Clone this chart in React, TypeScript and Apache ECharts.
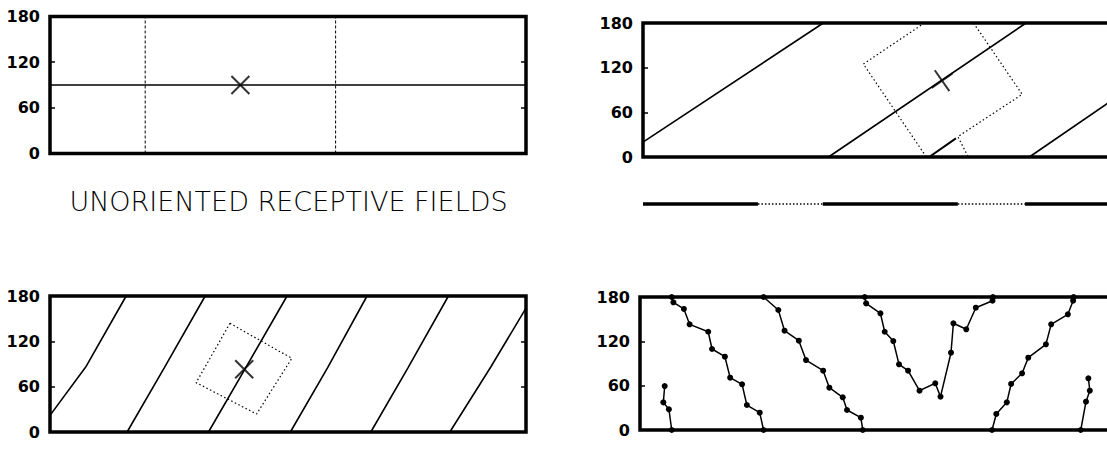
import React, { useEffect, useRef } from "react";
import * as echarts from "echarts";

// ---- Data ----
const yTickLabels = ["0", "60", "120", "180"];
const titleText = "UNORIENTED RECEPTIVE FIELDS";

// top-left: unoriented field
const tlOrientation = [[0, 90], [100, 90]];
const tlFieldEdges = [20, 60];
const tlCenter = [[40, 90]];

// top-right
const trLine1 = [[0, 20], [37.8, 180]];
const trLine2 = [[38.9, 0], [80.3, 180]];
const trLine3 = [[81, 0], [122, 180]];
const trShort = [[60, 0], [65.6, 25.1]];
const trBoxA = [[59, 180], [46.2, 124.9], [59.4, 0]];
const trBoxB = [[69.3, 180], [79.5, 84.2], [66, 27.3], [68.2, 0]];
const trCenter = [[62.7, 102.5]];

// separator (solid / dotted spans)
const sepSolid = [[0, 24.1], [37.7, 66.0], [80.1, 100]];
const sepDotted = [[24.1, 37.7], [66.0, 80.1]];

// bottom-left
const blLines = [
  [[0, 22], [7.5, 86], [16, 180]],
  [[16.2, 0], [24.0, 85], [32.6, 180]],
  [[33.3, 0], [41.1, 85], [49.8, 180]],
  [[50.5, 0], [58.3, 85], [66.6, 180]],
  [[67.4, 0], [75.2, 85], [83.7, 180]],
  [[84, 0], [92.6, 86], [100, 164]],
];
const blBox = [[37.8, 143.8], [50.8, 97.5], [43.4, 23.8], [30.7, 65.3], [37.8, 143.8]];
const blCenter = [[40.8, 83]];

// bottom-right: measured orientation map
const brCurves = [
  [[5.18, 59.5], [4.89, 37.4], [6.06, 28.0], [6.65, 0]],
  [[6.65, 180], [7.0, 172.8], [9.2, 163.8], [10.4, 143], [14.3, 133], [15.1, 109.6], [17.8, 99.2], [18.9, 70.8], [21.4, 61.8], [22.4, 33.8], [25.1, 23.4], [25.9, 0]],
  [[25.9, 180], [29.0, 162.4], [30.3, 134.4], [33.3, 120.9], [34.8, 94.7], [38.4, 80.3], [39.7, 57.3], [42.5, 44.2], [43.4, 27.1], [46.3, 16.7], [46.7, 0]],
  [[47.1, 180], [47.4, 171.4], [50.4, 157.9], [51.3, 133], [53.1, 120.4], [54.3, 88.9], [56.2, 80.3], [58.6, 53.2], [61.9, 63.2], [63.0, 45.1], [65.2, 104.6], [65.7, 144.4], [68.4, 136.3], [70.4, 165.5], [73.9, 175], [74.0, 180]],
  [[73.8, 0], [74.7, 21.7], [76.9, 37.4], [77.8, 62.3], [80.1, 76.7], [81.4, 97.9], [85.1, 116], [86.2, 143], [89.7, 156.6], [90.8, 175], [90.9, 180]],
  [[92.4, 0], [93.5, 38.3], [94.3, 53.2], [94.0, 70.0]],
];

const BLACK = "#000";
const X_SYMBOL = "path://M0,0L18,18M18,0L0,18";

function gridBox(left: number, top: number, width: number, height: number, show = true) {
  return {
    left, top, width, height, show,
    borderColor: BLACK, borderWidth: 3.5, backgroundColor: "transparent",
    containLabel: false, outerBoundsMode: "none",
  };
}

function xAx(gridIndex: number) {
  return { type: "value", gridIndex, min: 0, max: 100, show: false };
}

function yAx(gridIndex: number, position: "left" | "right", labels: boolean) {
  return {
    type: "value", gridIndex, min: 0, max: 180, interval: 60, position,
    axisLine: { show: false },
    axisTick: { show: true, inside: true, length: 5, lineStyle: { color: BLACK, width: 1.5 } },
    axisLabel: {
      show: labels, margin: 10, color: BLACK, fontFamily: "DejaVu Sans", fontWeight: "bold", fontSize: 16,
      formatter: (v: number) => yTickLabels[Math.round(v / 60)] ?? String(v),
    },
    splitLine: { show: false },
  };
}

function lineS(data: number[][], xi: number, yi: number, width = 1.6, type: any = "solid") {
  return {
    type: "line", xAxisIndex: xi, yAxisIndex: yi, data, showSymbol: false, silent: true,
    lineStyle: { color: BLACK, width, type }, clip: true,
  };
}

function xMark(data: number[][], xi: number, yi: number, rotate = 0) {
  return {
    type: "scatter", xAxisIndex: xi, yAxisIndex: yi, data, symbol: X_SYMBOL, symbolSize: 18,
    symbolRotate: rotate, silent: true,
    itemStyle: { color: "rgba(0,0,0,0)", borderColor: BLACK, borderWidth: 2 },
  };
}

export default function App() {
  const ref = useRef<HTMLDivElement>(null);
  useEffect(() => {
    document.body.style.margin = "0";
    if (!ref.current) return;
    const chart = echarts.init(ref.current, null, { renderer: "svg" });
    const series: any[] = [];
    // grid 0: top-left (x0, y0 left, y1 right)
    series.push(lineS(tlOrientation, 0, 0, 1.6));
    tlFieldEdges.forEach((e) => series.push(lineS([[e, 0], [e, 180]], 0, 0, 1, [3, 2])));
    series.push(xMark(tlCenter, 0, 0));
    // grid 1: top-right (x1, y2)
    [trLine1, trLine2, trLine3].forEach((l) => series.push(lineS(l, 1, 2, 1.6)));
    series.push(lineS(trShort, 1, 2, 2));
    series.push(lineS(trBoxA, 1, 2, 1.2, [1.5, 2.5]));
    series.push(lineS(trBoxB, 1, 2, 1.2, [1.5, 2.5]));
    series.push(xMark(trCenter, 1, 2, -10));
    // grid 2: bottom-left (x2, y3 left, y4 right)
    blLines.forEach((l) => series.push(lineS(l, 2, 3, 1.6)));
    series.push(lineS(blBox, 2, 3, 1.2, [1.5, 2.5]));
    series.push(xMark(blCenter, 2, 3));
    // grid 3: bottom-right (x3, y5)
    brCurves.forEach((c) => series.push({
      type: "line", xAxisIndex: 3, yAxisIndex: 5, data: c, silent: true, clip: true,
      symbol: "circle", symbolSize: 6, showSymbol: true,
      itemStyle: { color: BLACK }, lineStyle: { color: BLACK, width: 1.5 },
    }));
    // grid 4: separator (x4, y6)
    sepSolid.forEach(([a, b]) => series.push(lineS([[a, 0], [b, 0]], 4, 6, 3.5)));
    sepDotted.forEach(([a, b]) => series.push(lineS([[a, 0], [b, 0]], 4, 6, 1.3, [1.5, 2])));

    chart.setOption({
      animation: false,
      backgroundColor: "#fff",
      grid: [
        gridBox(50, 16.5, 476, 137),
        gridBox(643, 23, 477, 134),
        gridBox(50, 296, 476, 136),
        gridBox(640, 297, 477, 133),
        gridBox(643, 199, 477, 10, false),
      ],
      xAxis: [xAx(0), xAx(1), xAx(2), xAx(3), xAx(4)],
      yAxis: [
        yAx(0, "left", true),
        yAx(0, "right", false),
        yAx(1, "left", true),
        yAx(2, "left", true),
        yAx(2, "right", false),
        yAx(3, "left", true),
        { type: "value", gridIndex: 4, min: -1, max: 1, show: false },
      ],
      graphic: [
        {
          type: "text", x: 288.5, y: 201.5, silent: true,
          style: {
            text: titleText, fill: BLACK, fontFamily: "DejaVu Sans", fontWeight: 200, fontSize: 27,
            align: "center", verticalAlign: "middle",
          },
        },
      ],
      series,
    });
    return () => chart.dispose();
  }, []);
  return <div ref={ref} style={{ width: 1107, height: 474 }} />;
}
